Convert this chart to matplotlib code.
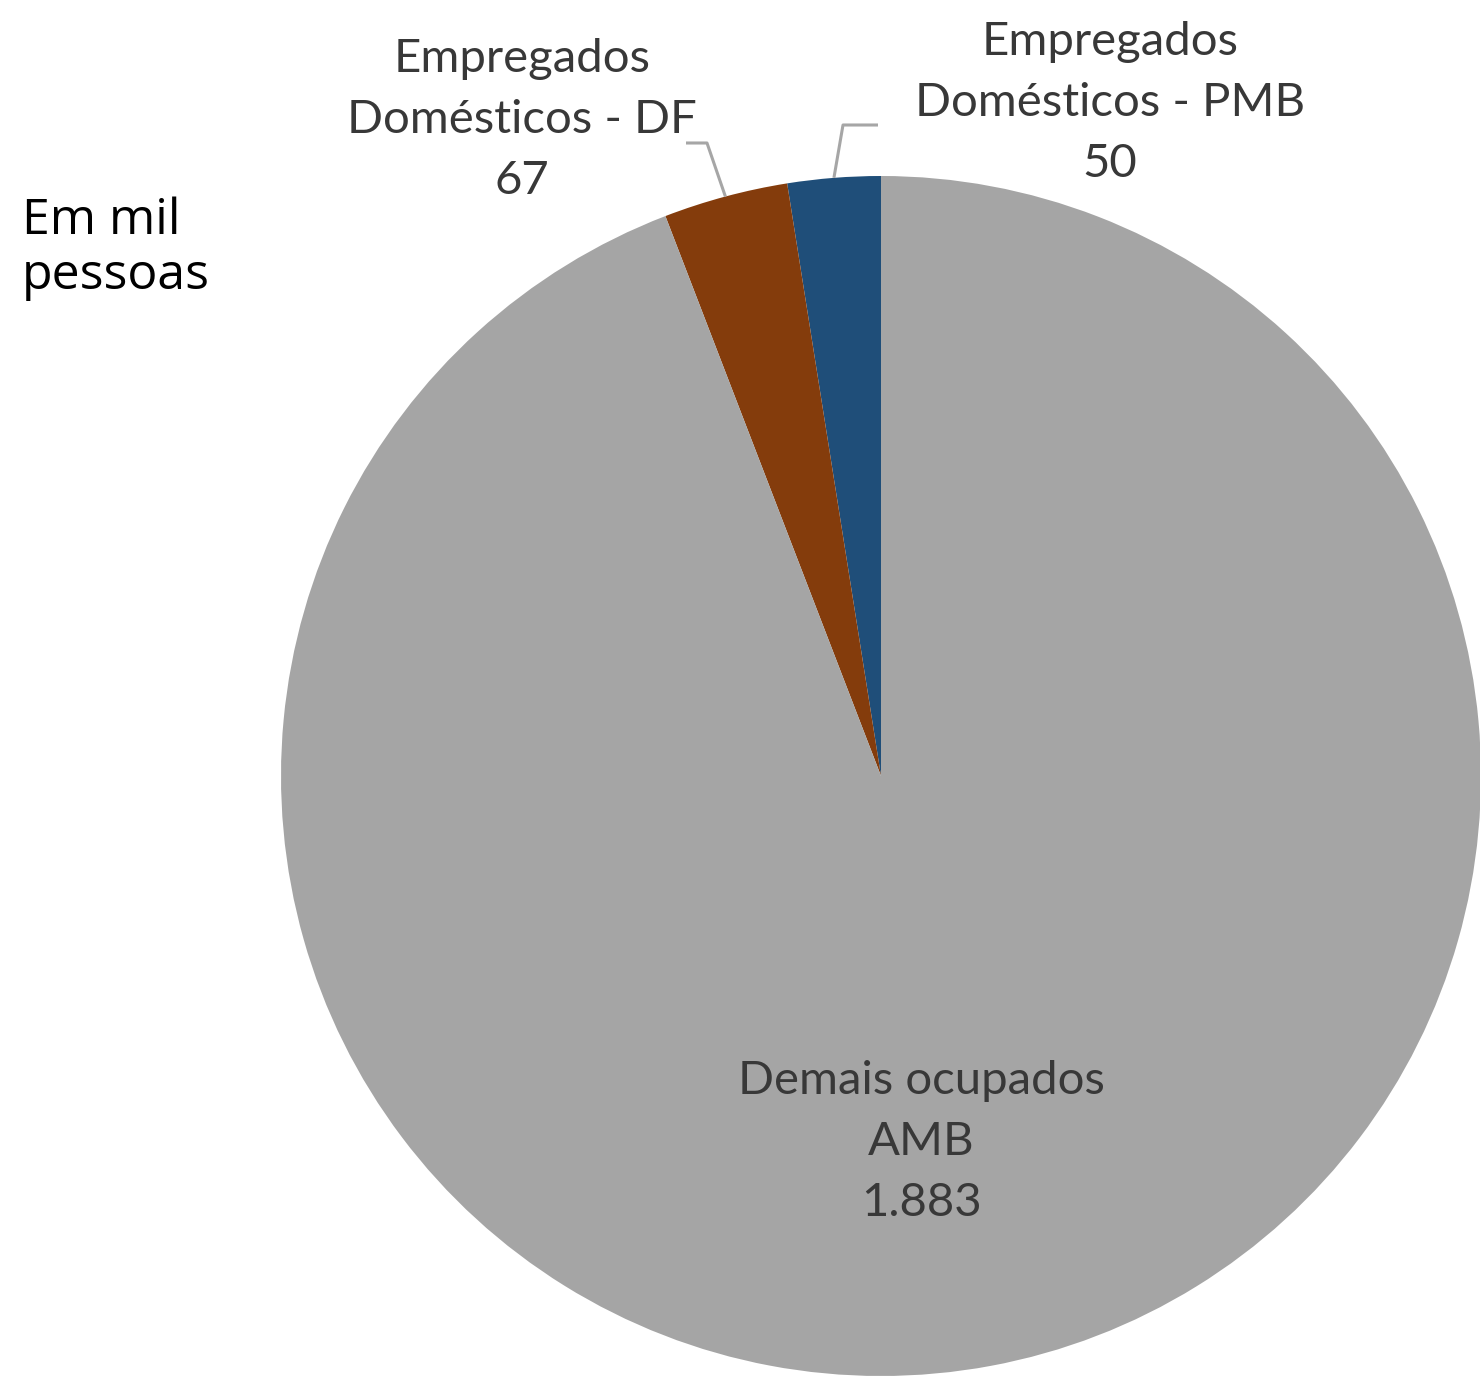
import numpy as np
import matplotlib.pyplot as plt

# data (em mil pessoas), counterclockwise from the top
labels = ['Empregados\nDomésticos - PMB', 'Empregados\nDomésticos - DF', 'Demais ocupados\nAMB']
values = [50, 67, 1883]
value_text = ['50', '67', '1.883']
colours = ['#1F4E79', '#843C0C', '#A5A5A5']

W, H = 1480, 1379
fig = plt.figure(figsize=(W / 100, H / 100), dpi=100)
ax = fig.add_axes([0, 0, 1, 1])

cx, cy, r = 881, H - 776, 600
wedges, _ = ax.pie(values, colors=colours, startangle=90, counterclock=True,
                   center=(cx, cy), radius=r, frame=True,
                   wedgeprops=dict(linewidth=0))
ax.set_xlim(0, W)
ax.set_ylim(0, H)
ax.set_aspect('equal')
ax.axis('off')

txt_kw = dict(fontsize=34, color='#383838', family='Lato', ha='center',
              va='center', linespacing=1.55)

# label positions (pixel coords, y from top) and leader elbows
label_pos = [(1110, 103), (522, 120), (921, 1142)]
elbows = [[(878, 125), (843, 125)], [(686, 143), (707, 143)], None]

for w, lab, val, (lx, ly), elb in zip(wedges, labels, value_text, label_pos, elbows):
    ax.text(lx, H - ly, f'{lab}\n{val}', **txt_kw)
    if elb is not None:
        ang = np.deg2rad((w.theta1 + w.theta2) / 2)
        px, py = cx + r * np.cos(ang), cy + r * np.sin(ang)
        xs = [elb[0][0], elb[1][0], px]
        ys = [H - elb[0][1], H - elb[1][1], py]
        ax.plot(xs, ys, color='#A6A6A6', linewidth=2.2, solid_capstyle='butt')

ax.text(22, H - 249, 'Em mil\npessoas', fontsize=36, color='black',
        family='Open Sans', ha='left', va='center', linespacing=1.15)

fig.patch.set_facecolor('white')
fig.savefig('out.png', dpi=100, facecolor='white')
